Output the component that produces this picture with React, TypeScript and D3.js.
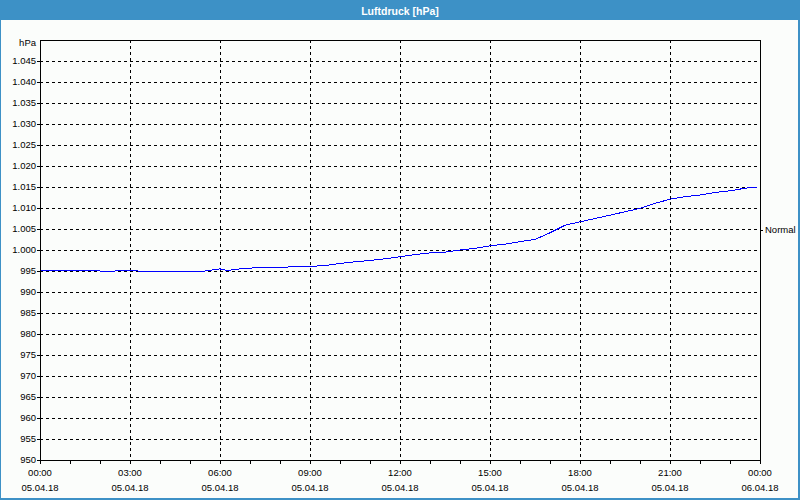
import React from "react";
import * as d3 from "d3";

const hours = [0, 0.5, 1, 1.5, 2, 2.5, 3, 3.5, 4, 4.5, 5, 5.5, 6, 6.25, 6.5, 7, 7.5, 8, 8.5, 9, 9.5, 10, 10.5, 11, 11.5, 12, 12.5, 13, 13.5, 14, 14.5, 15, 15.5, 16, 16.5, 16.75, 17, 17.5, 18, 18.5, 19, 19.5, 20, 20.5, 21, 21.5, 22, 22.5, 23, 23.5, 23.9];
const pressure = [995.1, 995.1, 995.1, 995.1, 995.0, 995.0, 995.2, 994.8, 994.8, 994.8, 994.8, 995.0, 995.5, 995.1, 995.4, 995.7, 995.8, 995.9, 996.0, 996.1, 996.3, 996.8, 997.2, 997.5, 997.9, 998.4, 998.9, 999.3, 999.5, 1000.0, 1000.4, 1001.0, 1001.4, 1002.0, 1002.5, 1003.3, 1004.1, 1005.9, 1006.7, 1007.5, 1008.3, 1009.1, 1009.9, 1011.1, 1012.1, 1012.7, 1013.1, 1013.7, 1014.1, 1014.7, 1015.0];
const yTicks = [950, 955, 960, 965, 970, 975, 980, 985, 990, 995, 1000, 1005, 1010, 1015, 1020, 1025, 1030, 1035, 1040, 1045];
const normalValue = 1004.8;
const title = "Luftdruck [hPa]";
const unitLabel = "hPa";
const normalLabel = "Normal";

const W = 800, H = 500;
const L = 40, R = 760, T = 40, B = 460;
const start = new Date(2018, 3, 5, 0, 0);
const end = new Date(2018, 3, 6, 0, 0);

const locale = d3.formatLocale({ decimal: ",", thousands: ".", grouping: [3], currency: ["", "€"] });
const fmtY = locale.format(",d");
const fmtTime = d3.timeFormat("%H:%M");
const fmtDate = d3.timeFormat("%d.%m.%y");

export default function App() {
  const x = d3.scaleTime().domain([start, end]).range([L, R]);
  const y = d3.scaleLinear().domain([950, 1050]).range([B, T]);
  const data = hours.map((h, i) => ({ t: new Date(start.getTime() + h * 3600000), v: pressure[i] }));
  const line = d3.line<{ t: Date; v: number }>().x(d => x(d.t)).y(d => y(d.v));
  const majors = x.ticks(d3.timeHour.every(3)!);
  const minors = x.ticks(d3.timeHour.every(1)!);
  const font = "Tahoma, 'Liberation Sans', Arial, sans-serif";
  const c = (v: number) => Math.round(v) + 0.5;
  const blue = "#3d91c6";

  return (
    <svg width={W} height={H} style={{ position: "fixed", left: 0, top: 0, display: "block" }} fontFamily={font}>
      <rect x={0} y={0} width={W} height={H} fill="#fbfdfb" />
      <rect x={0} y={0} width={W} height={20} fill={blue} />
      <rect x={0.5} y={0.5} width={W - 2} height={H - 2} fill="none" stroke={blue} strokeWidth={1} />
      <rect x={W - 2} y={0} width={2} height={H} fill={blue} />
      <rect x={0} y={H - 2} width={W} height={2} fill={blue} />
      <text x={W / 2} y={14.5} textAnchor="middle" fill="#ffffff" fontWeight="bold" fontSize={10.5}>{title}</text>

      {/* horizontal gridlines */}
      {yTicks.filter(v => v > 950).map(v => (
        <line key={"hg" + v} x1={L} x2={R} y1={c(y(v))} y2={c(y(v))} stroke="#000" strokeDasharray="3,3" shapeRendering="crispEdges" />
      ))}
      {/* vertical gridlines */}
      {majors.filter(t => +t > +start && +t < +end).map(t => (
        <line key={"vg" + +t} x1={c(x(t))} x2={c(x(t))} y1={T} y2={B} stroke="#000" strokeDasharray="3,3" shapeRendering="crispEdges" />
      ))}

      {/* data line */}
      <path d={line(data) || ""} fill="none" stroke="#0000ff" strokeWidth={1} shapeRendering="crispEdges" />

      {/* frame */}
      <rect x={L + 0.5} y={T + 0.5} width={R - L} height={B - T} fill="none" stroke="#000" strokeWidth={1} shapeRendering="crispEdges" />

      {/* y ticks & labels */}
      {yTicks.map(v => (
        <g key={"yt" + v}>
          <line x1={L - 3} x2={L} y1={c(y(v))} y2={c(y(v))} stroke="#000" shapeRendering="crispEdges" />
          <text x={36} y={y(v)} dy="0.35em" textAnchor="end" fontSize={9.5} fill="#000">{fmtY(v)}</text>
        </g>
      ))}
      <text x={36} y={45} dy="0.1em" textAnchor="end" fontSize={9.5} fill="#000">{unitLabel}</text>

      {/* x ticks */}
      {minors.map(t => (
        <line key={"xm" + +t} x1={c(x(t))} x2={c(x(t))} y1={B} y2={B + 4} stroke="#000" shapeRendering="crispEdges" />
      ))}
      {majors.map(t => (
        <g key={"xl" + +t}>
          <text x={x(t)} y={473} dy="0.35em" textAnchor="middle" fontSize={9.5} fill="#000">{fmtTime(t)}</text>
          <text x={x(t)} y={488} dy="0.35em" textAnchor="middle" fontSize={9.5} fill="#000">{fmtDate(t)}</text>
        </g>
      ))}

      {/* right axis normal marker */}
      <line x1={R} x2={R + 3} y1={c(y(normalValue))} y2={c(y(normalValue))} stroke="#000" shapeRendering="crispEdges" />
      <text x={765} y={y(normalValue)} dy="0.35em" textAnchor="start" fontSize={9.5} fill="#000">{normalLabel}</text>
    </svg>
  );
}
